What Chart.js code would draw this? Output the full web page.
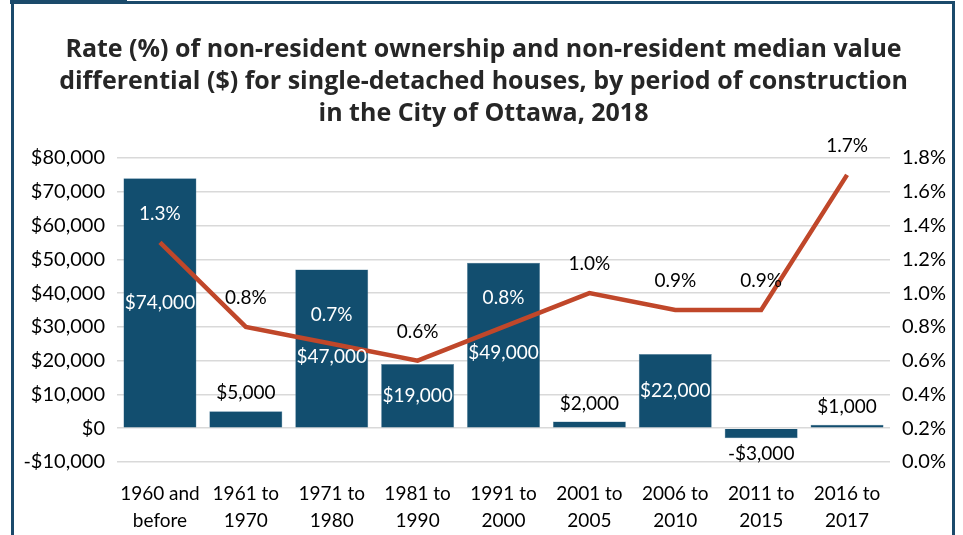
<!DOCTYPE html>
<html>
<head>
<meta charset="utf-8">
<script src="https://cdn.jsdelivr.net/npm/chart.js@4.4.1/dist/chart.umd.min.js"></script>
<style>
    body { margin: 0; background: #fff; }
    #wrap { position: relative; width: 963px; height: 535px; overflow: hidden; }
    #chart { position: absolute; left: 0; top: 0; }
    .frame { position: absolute; left: 11px; top: 1px; width: 938px; height: 560px; border: 3px solid #1b4a6b; }
    .tab { position: absolute; left: 10px; top: 0; width: 117px; height: 4px; background: #1b4a6b; }
</style>
</head>
<body>
<div id="wrap">
    <canvas id="chart" width="963" height="535"></canvas>
    <div class="frame"></div>
    <div class="tab"></div>
</div>
<script>
const periods = [
    ['1960 and', 'before'], ['1961 to', '1970'], ['1971 to', '1980'], ['1981 to', '1990'],
    ['1991 to', '2000'], ['2001 to', '2005'], ['2006 to', '2010'], ['2011 to', '2015'], ['2016 to', '2017']
];
const valueDiff = [74000, 5000, 47000, 19000, 49000, 2000, 22000, -3000, 1000];
const ownershipRate = [1.3, 0.8, 0.7, 0.6, 0.8, 1.0, 0.9, 0.9, 1.7];
const dollarTicks = [-10000, 80000, 10000];
const rateTicks = [0, 1.8, 0.2];

const barColor = '#124e6f';
const lineColor = '#c0472a';
const fontFamily = 'Lato, "Open Sans", sans-serif';

const fmtDollar = v => (v < 0 ? '-$' : '$') + Math.abs(v).toLocaleString('en-US');

// labels for bars and line points, Excel-style
const labelPlugin = {
    id: 'labels',
    afterDatasetsDraw(chart) {
        const ctx = chart.ctx;
        const bars = chart.getDatasetMeta(0).data;
        const pts = chart.getDatasetMeta(1).data;
        ctx.save();
        ctx.font = '19px ' + fontFamily;
        ctx.textAlign = 'center';
        ctx.textBaseline = 'middle';
        bars.forEach((bar, i) => {
            const v = valueDiff[i];
            const h = Math.abs(bar.base - bar.y);
            let y, color;
            if (h > 50) {
                y = (bar.y + bar.base) / 2;
                // push down a little when the line label sits inside the bar too
                if (pts[i].y - 29 > bar.y + 20 && h < 200) y += 8;
                color = '#fff';
            } else if (v < 0) {
                y = bar.y + 16;
                color = '#000';
            } else {
                y = bar.y - 18;
                color = '#000';
            }
            ctx.fillStyle = color;
            ctx.fillText(fmtDollar(v), bar.x, y);
        });
        pts.forEach((p, i) => {
            const y = p.y - 29;
            const bar = bars[i];
            const inside = y > bar.y && Math.abs(bar.base - bar.y) > 50;
            ctx.fillStyle = inside ? '#fff' : '#000';
            ctx.fillText(ownershipRate[i].toFixed(1) + '%', p.x, y);
        });
        ctx.restore();
    }
};

new Chart(document.getElementById('chart'), {
    data: {
        labels: periods,
        datasets: [{
            type: 'bar',
            data: valueDiff,
            backgroundColor: barColor,
            borderColor: '#5f8aa5',
            borderWidth: 0.5,
            barPercentage: 0.85,
            categoryPercentage: 1,
            yAxisID: 'y',
            order: 2
        }, {
            type: 'line',
            data: ownershipRate,
            borderColor: lineColor,
            borderWidth: 4.5,
            pointRadius: 0,
            tension: 0,
            yAxisID: 'y1',
            order: 1
        }]
    },
    plugins: [labelPlugin],
    options: {
        responsive: false,
        animation: false,
        layout: { padding: { left: 14, right: 10, top: 34, bottom: 0 } },
        plugins: {
            legend: { display: false },
            tooltip: { enabled: false },
            title: {
                display: true,
                text: [
                    'Rate (%) of non-resident ownership and non-resident median value',
                    'differential ($) for single-detached houses, by period of construction',
                    'in the City of Ottawa, 2018'
                ],
                color: '#262626',
                font: { family: '"Open Sans", sans-serif', size: 25, weight: 'bold', lineHeight: 1.28 },
                padding: { top: 0, bottom: 28 }
            }
        },
        scales: {
            x: {
                grid: { display: false },
                border: { display: false },
                ticks: {
                    color: '#000',
                    font: { family: fontFamily, size: 19, lineHeight: 1.42 },
                    maxRotation: 0,
                    padding: 10
                },
                afterFit: s => { s.height = 73; }
            },
            y: {
                position: 'left',
                min: dollarTicks[0],
                max: dollarTicks[1],
                grid: { color: '#d9d9d9', lineWidth: 1.5, drawTicks: false },
                border: { display: false },
                ticks: {
                    stepSize: dollarTicks[2],
                    color: '#000',
                    padding: 12,
                    font: { family: fontFamily, size: 20 },
                    callback: v => fmtDollar(v)
                },
                afterFit: s => { s.width = 103; }
            },
            y1: {
                position: 'right',
                min: rateTicks[0],
                max: rateTicks[1],
                grid: { display: false, drawTicks: false },
                border: { display: false },
                ticks: {
                    stepSize: rateTicks[2],
                    color: '#000',
                    padding: 12,
                    font: { family: fontFamily, size: 20 },
                    callback: v => v.toFixed(1) + '%'
                },
                afterFit: s => { s.width = 63; }
            }
        }
    }
});
</script>
</body>
</html>
